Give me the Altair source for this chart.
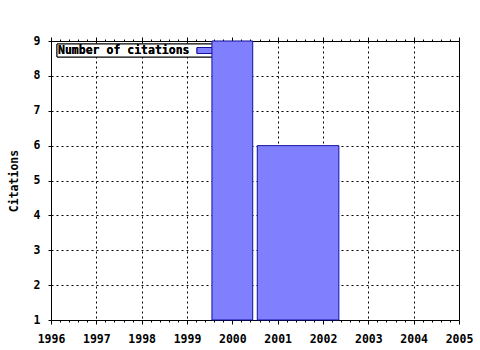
import altair as alt
import pandas as pd

# Data
bar_start = [1999.55, 2000.55]
bar_end = [2000.45, 2002.35]
citations = [9, 6]
base = [1, 1]

year_ticks = list(range(1996, 2006))
minor_ticks = [round(1996 + i * 0.2, 1) for i in range(0, 46) if i % 5 != 0]
y_ticks = list(range(1, 10))

df = pd.DataFrame({"start": bar_start, "end": bar_end, "value": citations, "base": base})

FONT = "DejaVu Sans Mono"
FS = 11.5
xscale = alt.Scale(domain=[1996, 2005], nice=False, zero=False)
yscale = alt.Scale(domain=[1, 9], nice=False, zero=False)

# legend (drawn beneath bars, like the original)
legend_box = alt.Chart(df).mark_rect(fill="white", stroke="black", strokeWidth=1).encode(
    x=alt.value(6), x2=alt.value(169), y=alt.value(3), y2=alt.value(16)
)
legend_swatch = alt.Chart(df).mark_rect(fill="#8080ff", stroke="#1010a0", strokeWidth=1).encode(
    x=alt.value(146), x2=alt.value(170), y=alt.value(6.5), y2=alt.value(12.5)
)
legend_text = alt.Chart(df).mark_text(
    text="Number of citations", font=FONT, fontWeight="bold", fontSize=FS,
    align="left", baseline="middle", color="black"
).encode(x=alt.value(7), y=alt.value(10))

bars = alt.Chart(df).mark_rect(fill="#8080ff", stroke="#1010a0", strokeWidth=1).encode(
    x=alt.X("start:Q", scale=xscale, axis=alt.Axis(
        orient="bottom", values=year_ticks, format="d", title=None,
        grid=True, gridColor="black", gridDash=[2, 3], gridOpacity=1, gridWidth=1,
        tickSize=4, tickColor="black", domain=False,
        labelFont=FONT, labelFontWeight="bold", labelFontSize=FS, labelColor="black",
        labelPadding=9, labelBaseline="top", labelFlush=False, labelOverlap=False,
    )),
    x2="end:Q",
    y=alt.Y("value:Q", scale=yscale, axis=alt.Axis(
        values=y_ticks, format="d", title="Citations",
        grid=True, gridColor="black", gridDash=[2, 3], gridOpacity=1, gridWidth=1,
        tickSize=3, tickColor="black", domain=False,
        labelFont=FONT, labelFontWeight="bold", labelFontSize=FS, labelColor="black",
        labelPadding=8, labelAlign="right", labelBaseline="middle", labelFlush=False,
        labelOverlap=False,
        titleFont=FONT, titleFontWeight="bold", titleFontSize=FS, titleColor="black",
        titleAngle=270, titleX=-37, titleY=139.5, titleAlign="center", titleBaseline="middle",
    )),
    y2="base:Q",
)

def tick_layer(orient, values, size):
    return alt.Chart(df).mark_point(opacity=0).encode(
        x=alt.X("start:Q", scale=xscale, axis=alt.Axis(
            orient=orient, values=values, title=None, labels=False, grid=False,
            domain=False, tickSize=size, tickColor="black"
        )),
        y=alt.value(100),
    )

chart = alt.layer(
    legend_box, legend_swatch, legend_text, bars,
    tick_layer("bottom", minor_ticks, 2),
    tick_layer("top", year_ticks, 4),
    tick_layer("top", minor_ticks, 2),
).resolve_axis(x="independent").properties(
    width=408, height=279,
    autosize=alt.AutoSizeParams(type="none"),
    padding={"left": 51, "top": 41, "right": 21, "bottom": 30},
    background="white",
).configure_view(stroke="black", strokeWidth=1)

chart.save("out.html", embed_options={"renderer": "svg", "actions": False})
